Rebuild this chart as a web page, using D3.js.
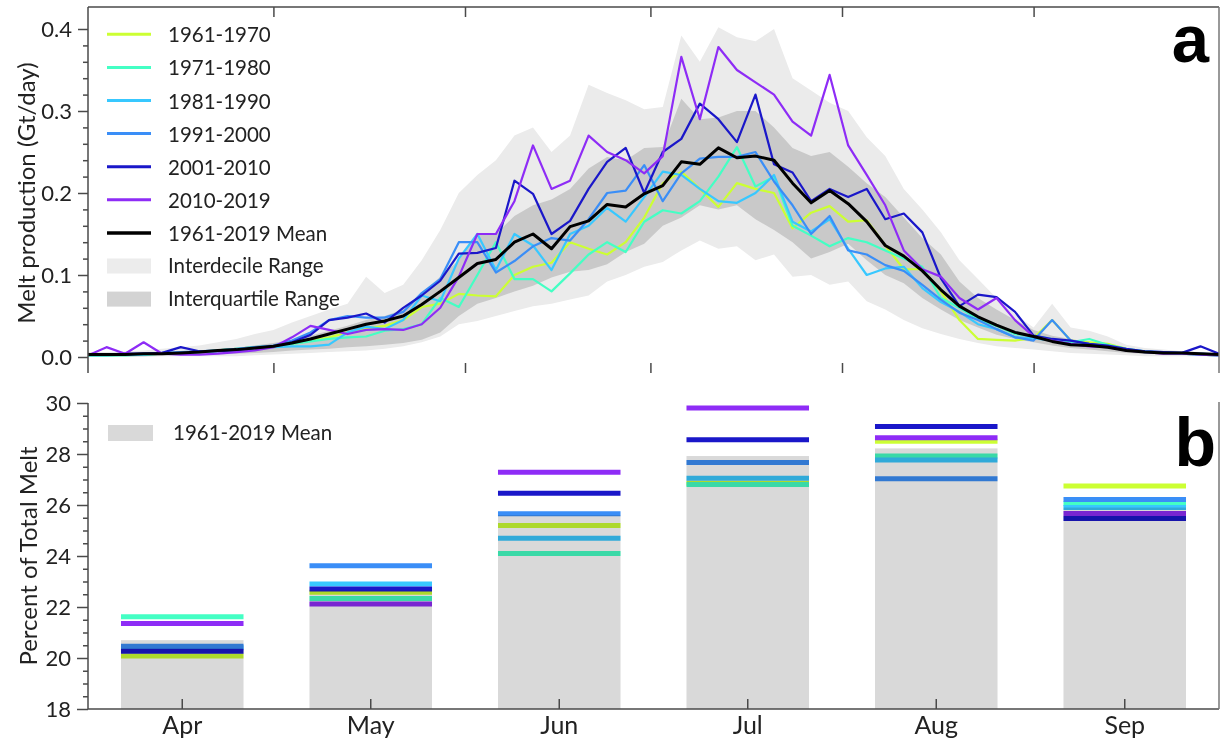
<!DOCTYPE html>
<html>
<head>
<meta charset="utf-8">
<script src="https://cdn.jsdelivr.net/npm/d3@7/dist/d3.min.js"></script>
<style>
  html, body { margin: 0; padding: 0; background: #fff; }
  svg { display: block; font-family: Lato, "Open Sans", sans-serif; }
</style>
</head>
<body>
<svg id="chart" width="1221" height="745"></svg>
<script>
// ---- Panel a: daily melt production (Gt/day), sampled every third day from 1 April ----
const sampleDays = d3.range(0, 184, 3);
const monthStarts = [0, 30, 61, 91, 122, 153, 183];

const decades = ["1961-1970", "1971-1980", "1981-1990", "1991-2000", "2001-2010", "2010-2019"];
const decadeColors = ["#ccff33", "#44ffc4", "#38c8ff", "#3a8ef7", "#1a17c9", "#8e2cf6"];

const melt1961 = [0.002,0.002,0.003,0.003,0.004,0.005,0.006,0.008,0.010,0.012,
  0.013,0.016,0.020,0.024,0.030,0.035,0.038,0.045,0.061,0.065,
  0.077,0.075,0.074,0.100,0.110,0.115,0.140,0.132,0.125,0.140,
  0.170,0.212,0.226,0.205,0.183,0.212,0.205,0.200,0.157,0.176,
  0.184,0.165,0.167,0.136,0.107,0.107,0.080,0.045,0.022,0.021,
  0.020,0.023,0.045,0.020,0.018,0.016,0.010,0.006,0.005,0.004,
  0.003,0.002];
const melt1971 = [0.002,0.002,0.002,0.003,0.004,0.005,0.006,0.008,0.010,0.012,
  0.013,0.016,0.019,0.022,0.024,0.025,0.032,0.034,0.040,0.072,
  0.061,0.100,0.140,0.095,0.095,0.080,0.102,0.125,0.140,0.128,
  0.165,0.179,0.175,0.190,0.220,0.256,0.208,0.220,0.160,0.148,
  0.135,0.145,0.140,0.130,0.120,0.110,0.072,0.060,0.046,0.038,
  0.028,0.026,0.022,0.018,0.022,0.015,0.010,0.007,0.005,0.004,
  0.003,0.002];
const melt1981 = [0.002,0.002,0.003,0.003,0.004,0.005,0.006,0.007,0.009,0.011,
  0.012,0.013,0.013,0.015,0.030,0.037,0.034,0.045,0.075,0.068,
  0.120,0.150,0.106,0.150,0.136,0.106,0.150,0.160,0.182,0.165,
  0.195,0.226,0.222,0.205,0.190,0.188,0.200,0.222,0.165,0.153,
  0.168,0.132,0.100,0.108,0.110,0.084,0.067,0.055,0.040,0.034,
  0.024,0.023,0.020,0.016,0.014,0.012,0.009,0.006,0.005,0.004,
  0.003,0.002];
const melt1991 = [0.003,0.003,0.003,0.004,0.005,0.006,0.007,0.008,0.010,0.012,
  0.014,0.020,0.030,0.045,0.050,0.048,0.048,0.055,0.078,0.095,
  0.140,0.140,0.103,0.117,0.135,0.145,0.142,0.168,0.200,0.203,
  0.234,0.190,0.224,0.242,0.244,0.244,0.250,0.214,0.185,0.150,
  0.172,0.130,0.125,0.112,0.105,0.088,0.070,0.054,0.045,0.034,
  0.024,0.020,0.045,0.020,0.016,0.013,0.009,0.007,0.006,0.005,
  0.004,0.003];
const melt2001 = [0.003,0.003,0.004,0.004,0.005,0.012,0.007,0.007,0.008,0.011,
  0.013,0.018,0.027,0.045,0.048,0.053,0.042,0.060,0.075,0.093,
  0.126,0.127,0.133,0.215,0.199,0.150,0.166,0.205,0.238,0.255,
  0.200,0.250,0.266,0.309,0.290,0.262,0.320,0.235,0.225,0.190,
  0.205,0.195,0.205,0.168,0.175,0.152,0.096,0.062,0.076,0.073,
  0.055,0.026,0.022,0.020,0.016,0.014,0.010,0.007,0.006,0.005,
  0.013,0.004];
const melt2010 = [0.002,0.012,0.004,0.018,0.004,0.003,0.003,0.004,0.006,0.008,
  0.012,0.024,0.038,0.033,0.028,0.033,0.034,0.033,0.040,0.060,
  0.098,0.150,0.150,0.190,0.258,0.205,0.215,0.270,0.250,0.240,
  0.224,0.245,0.366,0.290,0.378,0.350,0.335,0.320,0.287,0.270,
  0.344,0.258,0.222,0.185,0.130,0.107,0.098,0.072,0.058,0.072,
  0.045,0.025,0.020,0.016,0.013,0.012,0.008,0.006,0.004,0.004,
  0.003,0.002];
const meltMean = [0.003,0.003,0.003,0.004,0.004,0.005,0.006,0.008,0.009,0.011,
  0.013,0.017,0.022,0.028,0.034,0.040,0.044,0.050,0.064,0.080,
  0.097,0.114,0.119,0.140,0.150,0.132,0.159,0.166,0.186,0.183,
  0.199,0.209,0.238,0.235,0.255,0.243,0.245,0.240,0.212,0.188,
  0.203,0.187,0.165,0.136,0.123,0.105,0.082,0.062,0.049,0.039,
  0.030,0.025,0.019,0.015,0.014,0.012,0.008,0.006,0.005,0.005,
  0.004,0.003];

// 10th-90th and 25th-75th percentile envelopes, 1961-2019
const decileHigh = [0.006,0.006,0.007,0.008,0.010,0.012,0.014,0.018,0.022,0.028,
  0.033,0.042,0.050,0.058,0.065,0.098,0.078,0.088,0.118,0.155,
  0.200,0.222,0.240,0.270,0.280,0.250,0.270,0.332,0.322,0.313,
  0.302,0.305,0.392,0.360,0.402,0.390,0.385,0.400,0.340,0.325,
  0.310,0.300,0.268,0.245,0.205,0.180,0.152,0.118,0.095,0.072,
  0.052,0.036,0.065,0.036,0.032,0.025,0.015,0.011,0.009,0.007,
  0.006,0.005];
const decileLow = [0.000,0.000,0.000,0.000,0.001,0.001,0.001,0.001,0.001,0.002,
  0.003,0.004,0.005,0.006,0.007,0.008,0.010,0.013,0.018,0.025,
  0.040,0.044,0.050,0.056,0.062,0.065,0.070,0.075,0.092,0.100,
  0.110,0.116,0.130,0.142,0.132,0.135,0.118,0.125,0.098,0.100,
  0.088,0.092,0.068,0.058,0.045,0.035,0.028,0.022,0.017,0.013,
  0.011,0.009,0.007,0.005,0.004,0.003,0.002,0.001,0.001,0.001,
  0.001,0.001];
const quartileHigh = [0.003,0.003,0.004,0.004,0.005,0.006,0.007,0.009,0.011,0.014,
  0.017,0.021,0.026,0.032,0.038,0.045,0.050,0.058,0.078,0.098,
  0.118,0.150,0.150,0.172,0.185,0.192,0.205,0.230,0.244,0.240,
  0.255,0.256,0.315,0.290,0.292,0.300,0.300,0.280,0.255,0.245,
  0.250,0.232,0.212,0.195,0.170,0.145,0.125,0.092,0.072,0.058,
  0.045,0.033,0.026,0.022,0.018,0.015,0.010,0.008,0.007,0.006,
  0.005,0.004];
const quartileLow = [0.001,0.001,0.001,0.001,0.002,0.002,0.003,0.003,0.004,0.005,
  0.006,0.008,0.009,0.010,0.012,0.013,0.015,0.017,0.021,0.030,
  0.050,0.065,0.072,0.080,0.087,0.097,0.104,0.106,0.113,0.128,
  0.138,0.160,0.170,0.185,0.180,0.185,0.168,0.155,0.140,0.120,
  0.128,0.138,0.118,0.100,0.090,0.072,0.058,0.045,0.036,0.027,
  0.022,0.018,0.014,0.011,0.009,0.007,0.005,0.004,0.003,0.003,
  0.002,0.002];

// ---- Panel b: monthly share of the season's melt (%) ----
const months = ["Apr", "May", "Jun", "Jul", "Aug", "Sep"];
const shareMean = [20.70, 22.65, 25.60, 27.92, 28.22, 25.90];
const share1961 = [20.08, 22.58, 25.20, 26.85, 28.50, 26.75];
const share1971 = [21.62, 22.33, 24.10, 26.80, 27.92, 26.05];
const share1981 = [20.40, 22.90, 24.70, 27.05, 27.76, 25.90];
const share1991 = [20.46, 23.62, 25.66, 27.67, 27.03, 26.22];
const share2001 = [20.26, 22.71, 26.46, 28.56, 29.08, 25.47];
const share2010 = [21.35, 22.12, 27.28, 29.80, 28.64, 25.67];

const yTicksA = [0, 0.1, 0.2, 0.3, 0.4];
const yTicksB = [18, 20, 22, 24, 26, 28, 30];

// ------------------------------------------------------------------
const meltSeries = [melt1961, melt1971, melt1981, melt1991, melt2001, melt2010];
const shareSeries = [share1961, share1971, share1981, share1991, share2001, share2010];

const svg = d3.select("#chart");
const left = 88, right = 1219;
const axisColor = "#4a4a4a";
const textColor = "#222";

// ===== Panel a =====
const topA = 7, bottomA = 373;
const xA = d3.scaleLinear().domain([0, 183]).range([left, right]);
const yA = d3.scaleLinear().domain([0, 0.4]).range([357, 29]);

svg.append("defs").append("clipPath").attr("id", "clipA")
  .append("rect").attr("x", left).attr("y", topA).attr("width", right - left).attr("height", bottomA - topA);

const plotA = svg.append("g").attr("clip-path", "url(#clipA)");

const band = (lo, hi) => d3.area()
  .x((d, i) => xA(sampleDays[i]))
  .y0((d, i) => yA(lo[i]))
  .y1((d, i) => yA(hi[i]));

plotA.append("path").datum(decileHigh).attr("d", band(decileLow, decileHigh)).attr("fill", "#ebebeb");
plotA.append("path").datum(quartileHigh).attr("d", band(quartileLow, quartileHigh)).attr("fill", "#c9c9c9");

const lineA = d3.line().x((d, i) => xA(sampleDays[i])).y(d => yA(d));
plotA.selectAll("path.decade").data(meltSeries).join("path")
  .attr("class", "decade")
  .attr("d", lineA)
  .attr("fill", "none")
  .attr("stroke", (d, i) => decadeColors[i])
  .attr("stroke-width", 2.2)
  .attr("stroke-linejoin", "round");
plotA.append("path").datum(meltMean).attr("d", lineA)
  .attr("fill", "none").attr("stroke", "#000").attr("stroke-width", 3).attr("stroke-linejoin", "round");

// frame: left axis, top edge, right edge
const frameA = svg.append("g").attr("stroke", axisColor).attr("stroke-width", 1.5).attr("fill", "none");
frameA.append("line").attr("x1", left).attr("x2", left).attr("y1", topA).attr("y2", bottomA);
frameA.append("line").attr("x1", left).attr("x2", right).attr("y1", topA).attr("y2", topA);
frameA.append("line").attr("x1", right).attr("x2", right).attr("y1", topA).attr("y2", bottomA).attr("stroke", "#777");

// month boundary ticks, top and bottom, pointing inward
svg.append("g").attr("transform", `translate(0,${topA})`)
  .call(d3.axisBottom(xA).tickValues(monthStarts.slice(1, -1)).tickSize(10).tickFormat(""))
  .call(g => g.select(".domain").remove());
svg.append("g").attr("transform", `translate(0,${bottomA})`)
  .call(d3.axisTop(xA).tickValues(monthStarts.slice(1, -1)).tickSize(10).tickFormat(""))
  .call(g => g.select(".domain").remove());

// y axis, major and minor ticks
const minorA = d3.range(0, 21).map(k => k * 0.02).filter(v => Math.round(v * 100) % 10 !== 0);
svg.append("g").attr("transform", `translate(${left},0)`)
  .call(d3.axisLeft(yA).tickValues(minorA).tickSize(5).tickFormat(""))
  .call(g => g.select(".domain").remove());
svg.append("g").attr("class", "ya").attr("transform", `translate(${left},0)`)
  .call(d3.axisLeft(yA).tickValues(yTicksA).tickSize(10).tickPadding(6).tickFormat(d3.format(".1f")))
  .call(g => g.select(".domain").remove());

svg.append("text")
  .attr("transform", `translate(25,${(yA(0) + yA(0.4)) / 2}) rotate(-90)`)
  .attr("text-anchor", "middle").attr("dominant-baseline", "central")
  .attr("font-size", 24).attr("fill", textColor)
  .text("Melt production (Gt/day)");

// legend
const legA = svg.append("g").attr("transform", "translate(107,0)");
const rowY = i => 34.3 + 33.1 * i;
decades.forEach((name, i) => {
  legA.append("line").attr("x1", 0).attr("x2", 44).attr("y1", rowY(i)).attr("y2", rowY(i))
    .attr("stroke", decadeColors[i]).attr("stroke-width", 3);
  legA.append("text").attr("x", 61).attr("y", rowY(i) + 8).attr("font-size", 20.5).attr("fill", textColor).text(name);
});
legA.append("line").attr("x1", 0).attr("x2", 44).attr("y1", rowY(6)).attr("y2", rowY(6))
  .attr("stroke", "#000").attr("stroke-width", 3.5);
legA.append("text").attr("x", 61).attr("y", rowY(6) + 8).attr("font-size", 20.5).attr("fill", textColor).text("1961-2019 Mean");
[["Interdecile Range", "#ececec"], ["Interquartile Range", "#d3d3d3"]].forEach(([name, fill], k) => {
  const cy = rowY(7 + k);
  legA.append("rect").attr("x", 0).attr("y", cy - 7.5).attr("width", 44).attr("height", 15).attr("fill", fill);
  legA.append("text").attr("x", 61).attr("y", cy + 7).attr("font-size", 20.5).attr("fill", textColor).text(name);
});

svg.append("text").attr("x", 1209).attr("y", 62).attr("text-anchor", "end")
  .attr("font-family", "'Liberation Sans', Arial, sans-serif")
  .attr("font-size", 67).attr("font-weight", "bold").attr("fill", "#000").text("a");

// ===== Panel b =====
const topB = 403, bottomB = 709;
const xB = d3.scaleBand().domain(months).range([left, right]).paddingInner(0.35).paddingOuter(0.175);
const yB = d3.scaleLinear().domain([18, 30]).range([bottomB, topB]);

const plotB = svg.append("g");
// decade shares as horizontal strokes spanning each month's bar
shareSeries.forEach((vals, i) => {
  plotB.append("g").selectAll("line").data(vals).join("line")
    .attr("x1", (d, j) => xB(months[j]))
    .attr("x2", (d, j) => xB(months[j]) + xB.bandwidth())
    .attr("y1", d => yB(d)).attr("y2", d => yB(d))
    .attr("stroke", decadeColors[i]).attr("stroke-width", 5);
});
// mean bars laid over the strokes, multiplied so the strokes show through darkened
plotB.append("g")
  .selectAll("rect").data(shareMean).join("rect")
  .attr("x", (d, j) => xB(months[j]))
  .attr("width", xB.bandwidth())
  .attr("y", d => yB(d))
  .attr("height", d => yB(18) - yB(d))
  .attr("fill", "#d9d9d9")
  .style("mix-blend-mode", "multiply");

const frameB = svg.append("g").attr("stroke", axisColor).attr("stroke-width", 1.5).attr("fill", "none");
frameB.append("line").attr("x1", left).attr("x2", left).attr("y1", topB).attr("y2", bottomB);
frameB.append("line").attr("x1", left).attr("x2", right).attr("y1", bottomB).attr("y2", bottomB);
frameB.append("line").attr("x1", right).attr("x2", right).attr("y1", topB - 1).attr("y2", bottomB).attr("stroke", "#777");

const minorB = d3.range(0, 25).map(k => 18 + k * 0.5).filter(v => v % 2 !== 0);
svg.append("g").attr("transform", `translate(${left},0)`)
  .call(d3.axisLeft(yB).tickValues(minorB).tickSize(5).tickFormat(""))
  .call(g => g.select(".domain").remove());
svg.append("g").attr("class", "yb").attr("transform", `translate(${left},0)`)
  .call(d3.axisLeft(yB).tickValues(yTicksB).tickSize(11).tickPadding(6).tickFormat(d3.format("d")))
  .call(g => g.select(".domain").remove());

svg.append("g").attr("class", "xb").attr("transform", `translate(0,${bottomB})`)
  .call(d3.axisBottom(xB).tickSize(-10).tickPadding(7))
  .call(g => g.select(".domain").remove());

svg.append("text")
  .attr("transform", `translate(27,${(topB + bottomB) / 2}) rotate(-90)`)
  .attr("text-anchor", "middle").attr("dominant-baseline", "central")
  .attr("font-size", 24).attr("fill", textColor)
  .text("Percent of Total Melt");

const legB = svg.append("g").attr("transform", "translate(108,0)");
legB.append("rect").attr("x", 0).attr("y", 425).attr("width", 45).attr("height", 16).attr("fill", "#d9d9d9");
legB.append("text").attr("x", 65).attr("y", 440).attr("font-size", 20.5).attr("fill", textColor).text("1961-2019 Mean");

svg.append("text").attr("x", 1216).attr("y", 466).attr("text-anchor", "end")
  .attr("font-family", "'Liberation Sans', Arial, sans-serif")
  .attr("font-size", 68).attr("font-weight", "bold").attr("fill", "#000").text("b");

// shared axis styling
svg.selectAll(".tick line").attr("stroke", axisColor).attr("stroke-width", 1.5);
svg.selectAll(".ya text, .yb text").attr("font-size", 22).attr("fill", textColor).attr("font-family", "Lato, sans-serif");
svg.selectAll(".xb text").attr("font-size", 25).attr("fill", textColor).attr("font-family", "Lato, sans-serif");
</script>
</body>
</html>
